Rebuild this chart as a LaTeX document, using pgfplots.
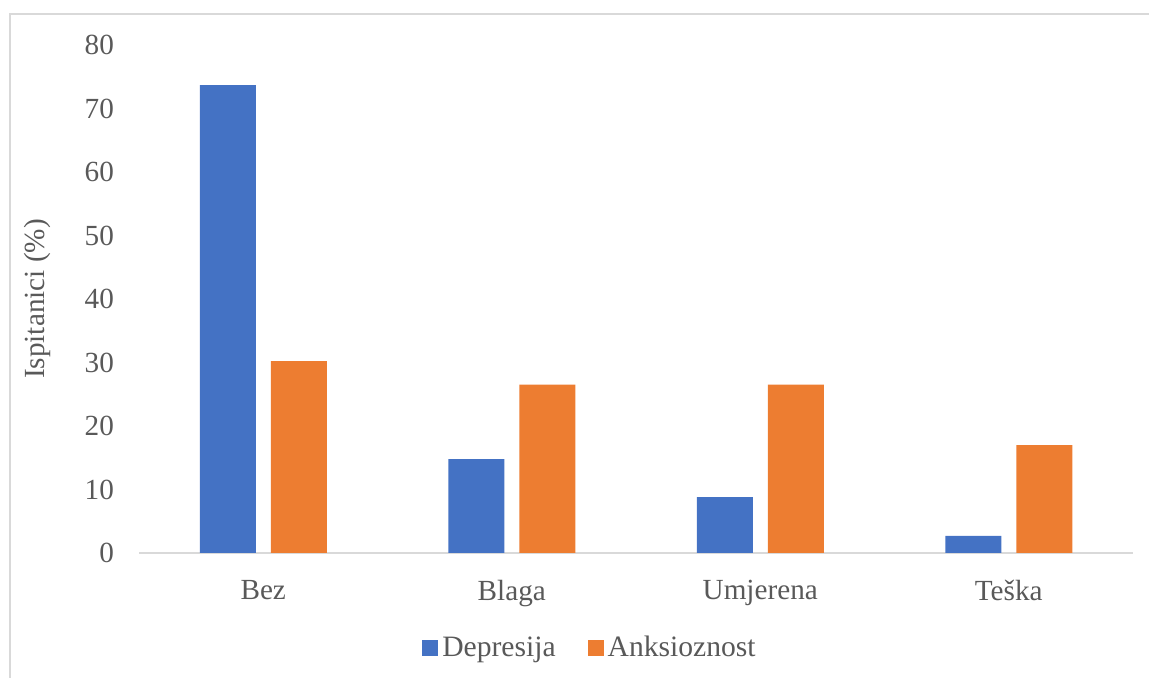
\documentclass[border=0pt]{standalone}
\usepackage{pgfplots}
\pgfplotsset{compat=1.18}
\usepackage{fontspec}
\setmainfont{Liberation Serif}

\definecolor{depblue}{HTML}{4472C4}
\definecolor{anxorange}{HTML}{ED7D31}
\definecolor{txtgray}{HTML}{595959}
\definecolor{linegray}{HTML}{D9D9D9}

\begin{document}
\begin{tikzpicture}
    \useasboundingbox (0,0) rectangle (574.5pt,339pt);
    % chart frame (only left and top edges are visible in the original)
    \draw[linegray, line width=0.8pt] (5pt,0) -- (5pt,332pt) -- (574.5pt,332pt);

    \begin{axis}[
        at={(69.5pt,62.5pt)}, anchor=south west,
        scale only axis,
        width=497pt, height=254pt,
        ybar=7.5pt, bar width=28pt,
        xmin=-0.5, xmax=3.5,
        ymin=0, ymax=80,
        ytick={0,10,...,80},
        xtick=data,
        xticklabels={Bez, Blaga, Umjerena, Teška},
        major tick length=0pt,
        axis y line*=left,
        axis x line*=bottom,
        y axis line style={draw=none},
        x axis line style={linegray, line width=0.9pt, -},
        font=\fontsize{14.6}{17}\selectfont,
        /pgf/number format/assume math mode=true,
        tick label style={txtgray},
        yticklabel style={xshift=-9pt},
        xticklabel style={yshift=-10pt},
        ylabel={Ispitanici (\%)},
        ylabel style={txtgray, at={(axis description cs:-0.1026,0.5)}, anchor=center},
        legend style={draw=none, fill=none, at={(0.4547,-0.187)}, anchor=center,
            text=txtgray, inner sep=0pt, font=\fontsize{14.8}{17}\selectfont,
            /tikz/every even column/.append style={column sep=14pt}},
        legend columns=2,
        legend image code/.code={\fill (0pt,-4pt) rectangle (8pt,4pt);},
    ]
        \addplot[fill=depblue, draw=none] coordinates {(0,73.7) (1,14.8) (2,8.8) (3,2.7)};
        \addlegendentry{Depresija}
        \addplot[fill=anxorange, draw=none] coordinates {(0,30.2) (1,26.5) (2,26.5) (3,17.0)};
        \addlegendentry{Anksioznost}
    \end{axis}
\end{tikzpicture}
\end{document}
